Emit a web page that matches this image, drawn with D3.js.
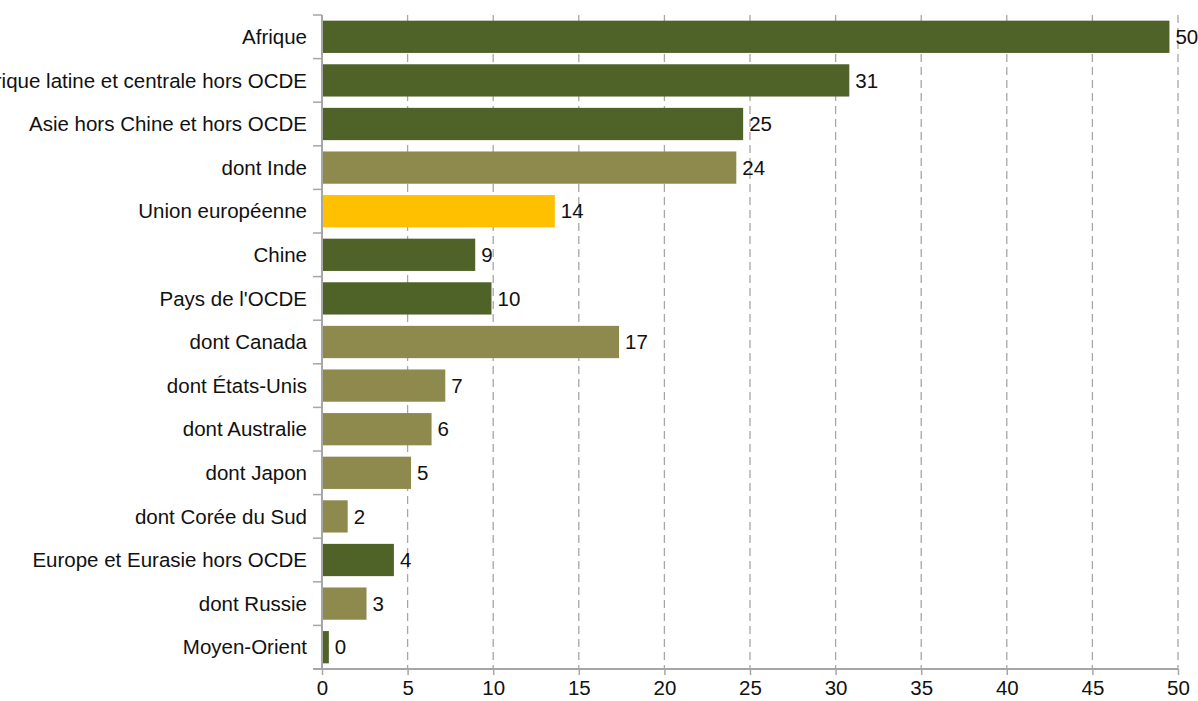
<!DOCTYPE html>
<html>
<head>
<meta charset="utf-8">
<script src="https://cdn.jsdelivr.net/npm/d3@7"></script>
<style>
  body { margin: 0; background: #fff; overflow: hidden; }
  svg { display: block; font-family: "Liberation Sans", Arial, sans-serif; }
</style>
</head>
<body>
<script>
// data
var categories = [
    'Afrique',
    'Amérique latine et centrale hors OCDE',
    'Asie hors Chine et hors OCDE',
    'dont Inde',
    'Union européenne',
    'Chine',
    "Pays de l'OCDE",
    'dont Canada',
    'dont États-Unis',
    'dont Australie',
    'dont Japon',
    'dont Corée du Sud',
    'Europe et Eurasie hors OCDE',
    'dont Russie',
    'Moyen-Orient'
];
var values = [49.5, 30.8, 24.6, 24.2, 13.6, 8.95, 9.9, 17.35, 7.2, 6.4, 5.2, 1.5, 4.2, 2.6, 0.4];
var kinds = ['region', 'region', 'region', 'sub', 'eu', 'region', 'region', 'sub', 'sub', 'sub', 'sub', 'sub', 'region', 'sub', 'region'];
var xTicks = [0, 5, 10, 15, 20, 25, 30, 35, 40, 45, 50];

var colors = { region: '#4f6228', sub: '#8e8a4e', eu: '#ffc000' };

var svgWidth = 1198, svgHeight = 701;
var margin = { top: 15, right: 20, bottom: 32, left: 322 };
var fontSize = 20.5;

var dataset = categories.map(function (c, i) {
    return { name: c, value: values[i], kind: kinds[i] };
});

var svg = d3.select('body')
    .append('svg')
    .attr('width', svgWidth)
    .attr('height', svgHeight);

var xScale = d3.scaleLinear()
    .domain([0, 50])
    .range([margin.left, svgWidth - margin.right]);

var yScale = d3.scaleBand()
    .domain(categories)
    .range([margin.top, svgHeight - margin.bottom])
    .paddingInner(0.26)
    .paddingOuter(0.13);

var plotTop = margin.top, plotBottom = svgHeight - margin.bottom;

// dashed grid
svg.append('g')
    .selectAll('line')
    .data(xTicks.slice(1))
    .enter()
    .append('line')
    .attr('x1', function (d) { return xScale(d); })
    .attr('x2', function (d) { return xScale(d); })
    .attr('y1', plotTop)
    .attr('y2', plotBottom)
    .attr('stroke', '#a6a6a6')
    .attr('stroke-width', 1.3)
    .attr('stroke-dasharray', '8,5');

// bars
svg.append('g')
    .selectAll('rect')
    .data(dataset)
    .enter()
    .append('rect')
    .attr('x', xScale(0))
    .attr('y', function (d) { return yScale(d.name); })
    .attr('width', function (d) { return xScale(d.value) - xScale(0); })
    .attr('height', yScale.bandwidth())
    .attr('fill', function (d) { return colors[d.kind]; });

// value labels
svg.append('g')
    .selectAll('text')
    .data(dataset)
    .enter()
    .append('text')
    .attr('x', function (d) { return xScale(d.value) + 6; })
    .attr('y', function (d) { return yScale(d.name) + yScale.bandwidth() / 2; })
    .attr('dy', '0.35em')
    .attr('font-size', fontSize)
    .attr('fill', '#111')
    .text(function (d) { return Math.round(d.value); });

// x axis
var xAxis = d3.axisBottom(xScale).tickValues(xTicks).tickSize(6).tickSizeOuter(0);
var gx = svg.append('g')
    .attr('transform', 'translate(0,' + plotBottom + ')')
    .call(xAxis);
gx.select('.domain').attr('stroke', '#a6a6a6').attr('stroke-width', 2)
    .attr('d', 'M' + (margin.left - 9) + ',0H' + xScale(50));
gx.selectAll('.tick line').attr('stroke', '#a6a6a6').attr('stroke-width', 1.5);
gx.selectAll('.tick text')
    .attr('font-size', fontSize)
    .attr('font-family', '"Liberation Sans", Arial, sans-serif')
    .attr('fill', '#111')
    .attr('y', 11)
    .attr('dy', '0.75em');

// y axis line and band ticks
var step = yScale.step();
var boundaries = d3.range(categories.length).map(function (i) {
    return yScale(categories[i]) - yScale.paddingInner() * step / 2;
});
var gy = svg.append('g');
gy.append('line')
    .attr('x1', margin.left).attr('x2', margin.left)
    .attr('y1', plotTop).attr('y2', plotBottom)
    .attr('stroke', '#a6a6a6').attr('stroke-width', 2);
gy.selectAll('.btick')
    .data(boundaries)
    .enter()
    .append('line')
    .attr('x1', margin.left - 9).attr('x2', margin.left)
    .attr('y1', function (d) { return d; })
    .attr('y2', function (d) { return d; })
    .attr('stroke', '#a6a6a6').attr('stroke-width', 1.5);

// category labels (the long one runs past the left edge, as in the source)
gy.selectAll('text')
    .data(categories)
    .enter()
    .append('text')
    .attr('x', margin.left - 15)
    .attr('y', function (d) { return yScale(d) + yScale.bandwidth() / 2; })
    .attr('dy', '0.35em')
    .attr('text-anchor', 'end')
    .attr('font-size', fontSize)
    .attr('fill', '#111')
    .text(function (d) { return d; });
</script>
</body>
</html>
